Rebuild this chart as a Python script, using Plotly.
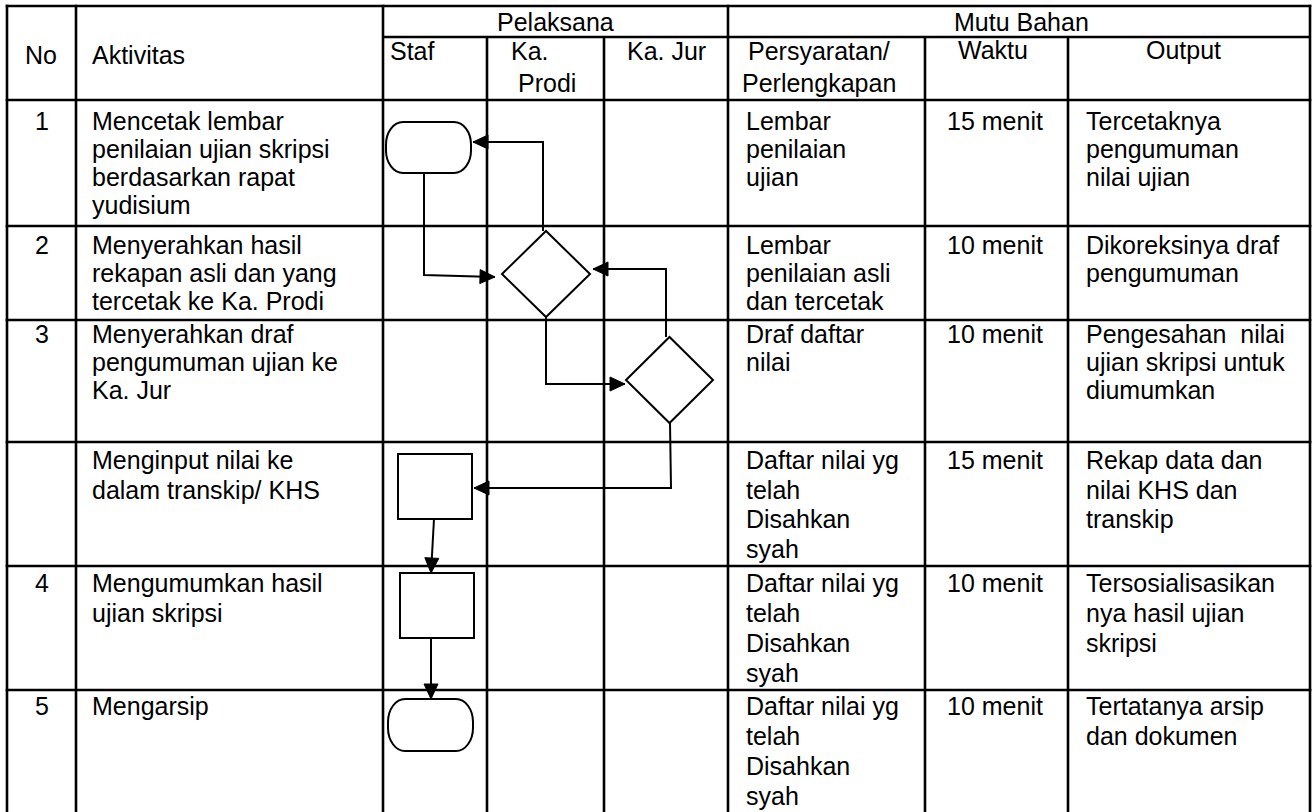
import plotly.graph_objects as go

# ------------------------------------------------------------------
# DATA (text content of the table)
# ------------------------------------------------------------------
group_headers = ["Pelaksana", "Mutu Bahan"]
col_headers = [
    ["No"],
    ["Aktivitas"],
    ["Staf"],
    ["Ka.", "Prodi"],
    ["Ka. Jur"],
    ["Persyaratan/", "Perlengkapan"],
    ["Waktu"],
    ["Output"],
]
row_numbers = ["1", "2", "3", "", "4", "5"]
aktivitas = [
    ["Mencetak lembar", "penilaian ujian skripsi", "berdasarkan rapat", "yudisium"],
    ["Menyerahkan hasil", "rekapan asli dan yang", "tercetak ke Ka. Prodi"],
    ["Menyerahkan draf", "pengumuman ujian ke", "Ka. Jur"],
    ["Menginput nilai ke", "dalam transkip/ KHS"],
    ["Mengumumkan hasil", "ujian skripsi"],
    ["Mengarsip"],
]
persyaratan = [
    ["Lembar", "penilaian", "ujian"],
    ["Lembar", "penilaian asli", "dan tercetak"],
    ["Draf daftar", "nilai"],
    ["Daftar nilai yg", "telah", "Disahkan", "syah"],
    ["Daftar nilai yg", "telah", "Disahkan", "syah"],
    ["Daftar nilai yg", "telah", "Disahkan", "syah"],
]
waktu = ["15 menit", "10 menit", "10 menit", "15 menit", "10 menit", "10 menit"]
output_col = [
    ["Tercetaknya", "pengumuman", "nilai ujian"],
    ["Dikoreksinya draf", "pengumuman"],
    ["Pengesahan&nbsp; nilai", "ujian skripsi untuk", "diumumkan"],
    ["Rekap data dan", "nilai KHS dan", "transkip"],
    ["Tersosialisasikan", "nya hasil ujian", "skripsi"],
    ["Tertatanya arsip", "dan dokumen"],
]

# flowchart node kinds (in flow order)
node_kind = ["terminator", "decision", "decision", "process", "process", "terminator"]

# ------------------------------------------------------------------
# LAYOUT (pixel geometry of the table, in the 1315 x 812 canvas)
# ------------------------------------------------------------------
W, H = 1315, 812
col_edges = [7, 76, 383, 487, 604, 728, 925, 1068, 1310]
row_edges = [6, 37, 100, 226, 320, 442, 566, 690, 812]
body_rows = row_edges[2:]
first_line_offset = [20.5, 19, 14, 18, 17, 16]
line_gap = [28, 28, 28, 29.5, 30, 30]

node_box = [  # x0, y0, x1, y1
    (386, 122, 471, 173),
    (502, 231, 590, 317),
    (626, 337, 713, 423),
    (398, 454, 472, 519),
    (400, 573, 474, 638),
    (388, 699, 473, 751),
]
connectors = [
    [(424, 173), (424, 275), (495, 277)],
    [(543, 231), (543, 142), (473, 142)],
    [(546, 317), (546, 384), (625, 384)],
    [(666, 337), (666, 269), (593, 269)],
    [(670, 423), (671, 488), (474, 488)],
    [(434, 519), (431, 573)],
    [(431, 638), (431, 699)],
]

FONT = "Liberation Sans, Arial, sans-serif"
FS = 25
GRID_W = 2.6
FLOW_W = 2.0

fig = go.Figure()
fig.add_trace(go.Scatter(x=[0, W], y=[0, H], mode="markers",
                         marker=dict(opacity=0), hoverinfo="skip", showlegend=False))

shapes = []
annotations = []


def hline(y, x0, x1):
    shapes.append(dict(type="line", xref="x", yref="y", x0=x0, x1=x1, y0=y, y1=y,
                       line=dict(color="black", width=GRID_W)))


def vline(x, y0, y1):
    shapes.append(dict(type="line", xref="x", yref="y", x0=x, x1=x, y0=y0, y1=y1,
                       line=dict(color="black", width=GRID_W)))


def text(x, y, s, anchor="left"):
    annotations.append(dict(x=x, y=y, xref="x", yref="y", text=s, showarrow=False,
                            xanchor=anchor, yanchor="middle",
                            font=dict(family=FONT, size=FS, color="black")))


# ---- grid ----
L, R = col_edges[0], col_edges[-1]
for y in [row_edges[0]] + row_edges[2:-1]:
    hline(y, L - 1.3, R + 1.3)
hline(row_edges[1], col_edges[2], R)
for x in [col_edges[0], col_edges[1], col_edges[2], col_edges[5], col_edges[8]]:
    vline(x, row_edges[0] - 1.3, H + 2)
for x in [col_edges[3], col_edges[4], col_edges[6], col_edges[7]]:
    vline(x, row_edges[1], H + 2)

# ---- headers ----
text((col_edges[2] + col_edges[5]) / 2, 21.5, group_headers[0], "center")
text((col_edges[5] + col_edges[8]) / 2 + 2, 21.5, group_headers[1], "center")
header_pos = [  # (x, anchor, first-line y)
    (41, "center", 55),
    (90, "left", 55),
    (388, "left", 51),
    (None, "center", 51),
    (666, "center", 51),
    (819, "center", 51),
    (993, "center", 50),
    (1183, "center", 50),
]
for (x, anc, y0), lines in zip(header_pos, col_headers):
    for i, s in enumerate(lines):
        xx = x
        if xx is None:
            xx = 530 if i == 0 else 547
        text(xx, y0 + i * 32, s, anc)

# ---- body ----
for r in range(6):
    top = body_rows[r]
    y0 = top + first_line_offset[r]
    g = line_gap[r]
    if row_numbers[r]:
        text(41.5, y0, row_numbers[r], "center")
    for i, s in enumerate(aktivitas[r]):
        text(90, y0 + i * g, s)
    for i, s in enumerate(persyaratan[r]):
        text(744, y0 + i * g, s)
    text(995, y0, waktu[r], "center")
    for i, s in enumerate(output_col[r]):
        text(1084, y0 + i * g, s)

# ---- flowchart nodes ----
K = 0.5523
for kind, (x0, y0, x1, y1) in zip(node_kind, node_box):
    if kind == "process":
        shapes.append(dict(type="rect", xref="x", yref="y", x0=x0, y0=y0, x1=x1, y1=y1,
                           line=dict(color="black", width=FLOW_W), fillcolor="white"))
    elif kind == "decision":
        cx, cy = (x0 + x1) / 2, (y0 + y1) / 2
        p = f"M {x0},{cy} L {cx},{y0} L {x1},{cy} L {cx},{y1} Z"
        shapes.append(dict(type="path", xref="x", yref="y", path=p,
                           line=dict(color="black", width=FLOW_W), fillcolor="white"))
    else:
        rx = 17
        ry = (y1 - y0) / 2 - 3
        p = (f"M {x0+rx},{y0} L {x1-rx},{y0} "
             f"C {x1-rx+rx*K},{y0} {x1},{y0+ry-ry*K} {x1},{y0+ry} "
             f"L {x1},{y1-ry} "
             f"C {x1},{y1-ry+ry*K} {x1-rx+rx*K},{y1} {x1-rx},{y1} "
             f"L {x0+rx},{y1} "
             f"C {x0+rx-rx*K},{y1} {x0},{y1-ry+ry*K} {x0},{y1-ry} "
             f"L {x0},{y0+ry} "
             f"C {x0},{y0+ry-ry*K} {x0+rx-rx*K},{y0} {x0+rx},{y0} Z")
        shapes.append(dict(type="path", xref="x", yref="y", path=p,
                           line=dict(color="black", width=FLOW_W), fillcolor="white"))

# ---- connectors with arrowheads ----
AL, AW = 15, 7
for pts in connectors:
    p = "M " + " L ".join(f"{x},{y}" for x, y in pts)
    shapes.append(dict(type="path", xref="x", yref="y", path=p,
                       line=dict(color="black", width=FLOW_W)))
    (xa, ya), (xb, yb) = pts[-2], pts[-1]
    dx, dy = xb - xa, yb - ya
    n = (dx * dx + dy * dy) ** 0.5
    ux, uy = dx / n, dy / n
    bx, by = xb - ux * AL, yb - uy * AL
    px, py = -uy * AW, ux * AW
    tri = f"M {xb},{yb} L {bx+px},{by+py} L {bx-px},{by-py} Z"
    shapes.append(dict(type="path", xref="x", yref="y", path=tri,
                       line=dict(color="black", width=1), fillcolor="black"))

fig.update_layout(
    width=W, height=H,
    margin=dict(l=0, r=0, t=0, b=0),
    paper_bgcolor="white", plot_bgcolor="white",
    xaxis=dict(range=[0, W], visible=False, fixedrange=True),
    yaxis=dict(range=[H, 0], visible=False, fixedrange=True),
    shapes=shapes, annotations=annotations, showlegend=False,
)
fig.write_html(
    "out.html",
    config={"displayModeBar": False},
    post_script="document.body.style.margin='0';document.body.style.overflow='hidden';",
)
